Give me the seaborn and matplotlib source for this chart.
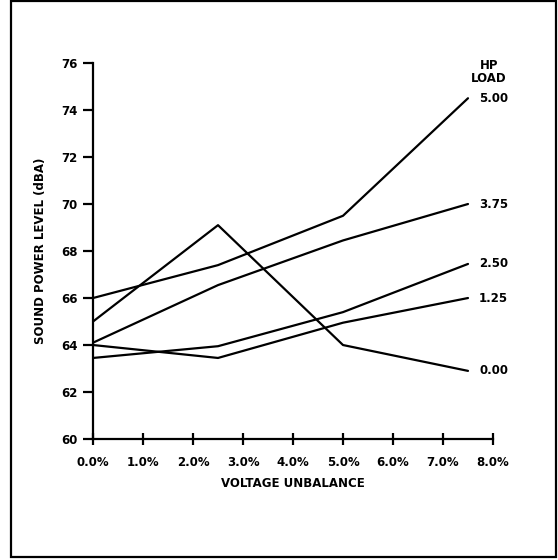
import numpy as np
import pandas as pd
import matplotlib
matplotlib.use("Agg")
import matplotlib.pyplot as plt
import seaborn as sns
from matplotlib.patches import Rectangle

# voltage unbalance (%) where each curve was measured
unbalance = [0.0, 2.5, 5.0, 7.5]

# sound power level (dBA) per HP load
load_500 = [66.0, 67.4, 69.5, 74.5]
load_375 = [64.1, 66.55, 68.45, 70.0]
load_250 = [63.45, 63.95, 65.4, 67.45]
load_125 = [64.0, 63.45, 64.95, 66.0]
load_000 = [65.0, 69.1, 64.0, 62.9]

load_labels = ["5.00", "3.75", "2.50", "1.25", "0.00"]
series = [load_500, load_375, load_250, load_125, load_000]

x_ticks = [0, 1, 2, 3, 4, 5, 6, 7, 8]
x_ticklabels = ["0.0%", "1.0%", "2.0%", "3.0%", "4.0%", "5.0%", "6.0%", "7.0%", "8.0%"]
y_ticks = [60, 62, 64, 66, 68, 70, 72, 74, 76]

rows = []
for lab, vals in zip(load_labels, series):
    for x, y in zip(unbalance, vals):
        rows.append({"unbalance": x, "spl": y, "load": lab})
df = pd.DataFrame(rows)

sns.set_theme(style="white")
plt.rcParams['font.family'] = ['Liberation Sans Narrow', 'DejaVu Sans']
plt.rcParams['font.weight'] = 'bold'
plt.rcParams['text.color'] = 'black'
plt.rcParams['axes.labelcolor'] = 'black'
plt.rcParams['xtick.color'] = 'black'
plt.rcParams['ytick.color'] = 'black'

fig = plt.figure(figsize=(5.58, 5.60), dpi=100)
ax = fig.add_axes([0.1667, 0.216, 0.7168, 0.6715])

sns.lineplot(data=df, x="unbalance", y="spl", hue="load", hue_order=load_labels,
             palette=["black"] * len(load_labels), linewidth=1.6, legend=False,
             ax=ax, sort=False)

ax.set_xlim(0, 8)
ax.set_ylim(60, 76)
ax.set_xticks(x_ticks)
ax.set_xticklabels(x_ticklabels)
ax.set_yticks(y_ticks)

for s in ["top", "right"]:
    ax.spines[s].set_visible(False)
for s in ["left", "bottom"]:
    ax.spines[s].set_color("black")
    ax.spines[s].set_linewidth(1.6)

ax.tick_params(axis="y", direction="out", length=7, width=1.6, colors="black",
               labelsize=8.5, pad=4, left=True)
ax.tick_params(axis="x", direction="inout", length=8, width=1.6, colors="black",
               labelsize=8.5, pad=8, bottom=True)
for t in ax.get_xticklabels() + ax.get_yticklabels():
    t.set_fontweight("bold")

ax.set_xlabel("VOLTAGE UNBALANCE", fontsize=8.5, fontweight="bold", labelpad=6)
ax.set_ylabel("SOUND POWER LEVEL (dBA)", fontsize=8.5, fontweight="bold", labelpad=10)

# right-hand labels at the end of each line
for lab, vals in zip(load_labels, series):
    ax.annotate(lab, xy=(unbalance[-1], vals[-1]), xytext=(8, 0),
                textcoords="offset points", ha="left", va="center",
                fontsize=8.5, fontweight="bold", annotation_clip=False)

ax.text(7.92, 75.6, "HP\nLOAD", ha="center", va="center", fontsize=8.5,
        fontweight="bold", linespacing=1.0, clip_on=False)

fig.patches.append(Rectangle((0.0197, 0.0054), 0.9767, 0.9926, transform=fig.transFigure,
                             fill=False, edgecolor="black", linewidth=1.6))

fig.savefig("out.png", dpi=100)
